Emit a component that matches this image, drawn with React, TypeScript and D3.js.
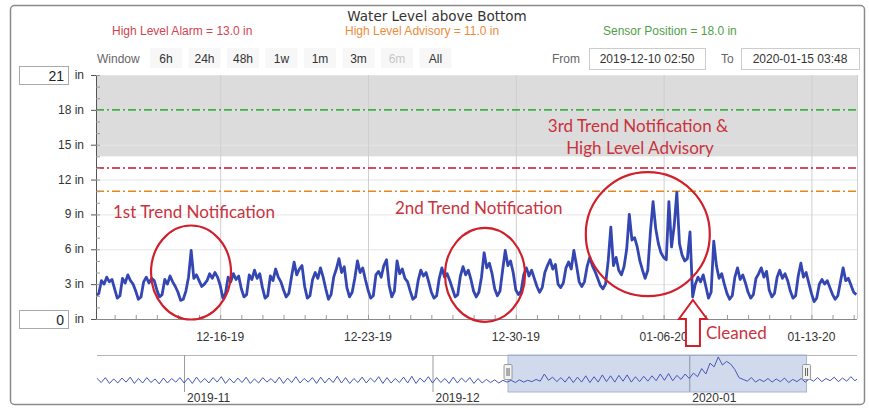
import React from "react";
import * as d3 from "d3";

const parse = d3.timeParse("%Y-%m-%d %H:%M");

// water level readings (in), one every 3 hours, first at 2019-12-10 03:00
const seriesStart = "2019-12-10 03:00";
const levelIn = [
  2.0, 2.2, 3.3, 3.0, 3.6, 3.2, 3.4, 2.6,
  1.8, 2.0, 3.5, 3.1, 3.8, 3.3, 3.0, 2.4,
  1.7, 1.9, 3.2, 3.6, 3.1, 3.5, 3.3, 2.5,
  1.9, 2.1, 3.4, 3.0, 3.7, 3.2, 2.8, 2.3,
  1.6, 1.7, 2.4, 3.6, 5.9, 3.5, 3.8, 3.3,
  2.8, 3.0, 3.3, 3.9, 3.5, 4.0, 3.6, 2.9,
  1.8, 2.2, 3.6, 3.2, 3.9, 3.4, 3.7, 2.6,
  1.9, 2.1, 3.8, 3.4, 4.2, 3.5, 3.9, 2.7,
  1.8, 2.0, 3.7, 3.3, 4.3, 3.6, 3.2, 2.5,
  1.9, 2.2, 3.6, 4.9, 3.8, 4.3, 4.6, 2.8,
  1.8, 2.0, 3.4, 4.0, 3.5, 4.4, 3.6, 2.6,
  1.7, 2.1, 3.6, 4.3, 5.2, 4.0, 4.5, 2.7,
  1.9, 2.3, 3.5, 5.0, 4.0, 4.4, 3.4, 2.5,
  1.8, 2.0, 3.8, 4.1, 3.6, 4.6, 5.1, 2.9,
  1.9, 2.4, 5.0, 3.9, 4.3, 3.5, 3.2, 2.4,
  1.7, 1.9, 3.3, 4.2, 3.7, 4.0, 3.2, 2.3,
  1.8, 2.0, 3.5, 4.4, 3.6, 3.9, 3.3, 2.6,
  1.9, 2.1, 3.7, 4.5, 3.8, 4.2, 3.4, 2.4,
  1.9, 2.3, 3.6, 5.7, 4.4, 4.8, 3.9, 2.6,
  2.0, 2.4, 4.2, 5.9, 4.6, 5.0, 4.0, 2.5,
  2.1, 2.4, 3.8, 4.4, 3.7, 4.2, 3.5, 2.8,
  2.3, 2.7, 4.0, 4.6, 5.1, 4.3, 4.7, 3.0,
  2.7, 3.1, 4.4, 4.9, 4.3, 5.9, 4.6, 3.2,
  2.8, 3.2, 4.5, 5.3, 4.6, 4.1, 3.5, 2.9,
  2.6, 3.0, 5.0, 7.9, 4.6, 5.3, 4.2, 3.8,
  4.5, 6.0, 9.0, 6.8, 7.0, 6.2, 5.0, 4.2,
  3.5, 4.2, 7.5, 10.1, 7.8, 6.5, 5.7, 5.3,
  5.1, 10.1, 6.2, 8.0, 10.9, 6.5, 5.5, 5.0,
  5.2, 7.5, 1.9, 3.0, 3.6, 3.2, 3.8, 2.8,
  1.8, 2.3, 6.7, 4.6, 3.5, 3.9, 3.0, 2.2,
  1.7, 2.0, 3.6, 4.4, 3.4, 3.8, 3.1, 2.3,
  1.8, 2.1, 3.5, 3.9, 4.4, 3.6, 4.1, 2.5,
  1.9, 2.2, 3.6, 4.2, 3.5, 3.9, 3.3, 2.4,
  1.8, 2.0, 3.7, 4.8, 3.6, 4.0, 3.1, 2.2,
  1.5, 1.8, 3.0, 3.4, 3.0, 3.3, 2.7, 2.1,
  1.7, 2.0, 3.2, 4.4, 3.3, 3.5, 2.9, 2.3,
  2.1,
];

// navigator overview, one value every 12 hours from 2019-10-21 00:00
const navStart = "2019-10-21 00:00";
const navLevel = [
  2.0, 3.0, 2.1, 3.2, 1.9, 2.9, 2.0, 3.1, 2.2, 3.3, 1.9, 3.0, 2.0, 3.2, 2.1, 2.9, 1.8, 3.1, 2.0, 3.0, 2.2, 3.2,
  2.0, 3.1, 1.9, 3.3, 2.1, 3.0, 2.0, 3.2, 2.2, 3.4, 1.9, 3.0, 2.0, 3.1, 2.1, 3.3, 1.9, 2.9, 2.0, 3.2,
  2.2, 3.0, 2.0, 3.3, 1.9, 3.1, 2.1, 3.4, 2.0, 3.0, 2.2, 3.2, 1.9, 3.3, 2.0, 3.1, 2.1, 3.5, 2.0, 3.2,
  1.9, 3.0, 2.1, 3.3, 2.0, 3.1, 2.2, 3.4, 1.9, 3.2, 2.0, 3.0, 2.1, 3.3, 2.0, 3.5, 1.9, 3.1, 2.2, 3.4,
  2.0, 3.2, 2.1, 3.0, 1.9, 3.3, 2.0, 3.1, 2.2, 3.2, 1.9, 3.0, 2.0, 2.8, 2.1, 2.7, 2.0, 2.6,
  2.2, 2.6, 2.1, 2.7, 2.2, 2.6, 2.3, 2.8, 2.4, 4.0,
  2.6, 3.3, 2.3, 3.2, 2.2, 3.4, 2.1, 3.3, 2.2, 3.6, 2.1, 3.4,
  2.2, 3.8, 2.3, 3.6, 2.2, 3.7, 2.4, 3.8, 2.2, 3.4, 2.3, 3.5, 2.4, 3.6, 2.5, 4.0, 2.6, 4.1, 2.5, 3.7, 2.8, 4.0,
  3.0, 4.2, 3.4, 5.2, 4.0, 6.4, 5.6, 7.8, 6.0, 6.8, 6.2, 5.0, 3.2, 2.8, 2.4, 3.2,
  2.2, 2.8, 2.3, 3.0, 2.2, 2.9, 2.3, 3.1, 2.1, 2.8, 2.3, 3.0, 2.2, 2.9, 2.4, 3.2, 2.3, 3.0, 2.5, 3.3,
  2.3, 3.1, 2.4, 3.4, 2.5, 3.2,
];

const viewFrom = "2019-12-10 02:50";
const viewTo = "2020-01-15 03:48";
const navFrom = "2019-10-21 11:45";
const navTo = "2020-01-21 06:00";

const yTicks = [0, 3, 6, 9, 12, 15, 18, 21];
const weekTicks = ["2019-12-16 00:00", "2019-12-23 00:00", "2019-12-30 00:00", "2020-01-06 00:00", "2020-01-13 00:00"];
const monthTicks = ["2019-11-01 00:00", "2019-12-01 00:00", "2020-01-01 00:00"];
const windowButtons = ["6h", "24h", "48h", "1w", "1m", "3m", "6m", "All"];
const thresholdNames = ["High Level Alarm", "High Level Advisory", "Sensor Position"];
const thresholdValues = [13, 11, 18];
const deadBand = [14, 21];

// circled events: centre time and level
const circleTimes = ["2019-12-14 14:50", "2019-12-28 13:00", "2020-01-05 06:00"];
const circleLevels = [4.0, 3.8, 7.3];
const cleanedTime = "2020-01-07 09:20";

const FONT = "'Liberation Sans', Arial, sans-serif";
const NOTE_FONT = "Lato, 'Open Sans', sans-serif";
const NOTE_RED = "#c9333d";

export default function App() {
  const W = 869;
  const H = 408;
  const m = { left: 96, right: 857, top: 75, bottom: 319 };

  const x = d3.scaleTime().domain([parse(viewFrom)!, parse(viewTo)!]).range([m.left, m.right]);
  const y = d3.scaleLinear().domain([0, 21]).range([m.bottom, m.top]);

  const t0 = parse(seriesStart)!;
  const pts: [Date, number][] = levelIn.map((v, i) => [d3.timeHour.offset(t0, i * 3), v]);
  const line = d3.line<[Date, number]>().x((d) => x(d[0])).y((d) => y(d[1]));

  const nav = { top: 355, bottom: 392 };
  const xn = d3.scaleTime().domain([parse(navFrom)!, parse(navTo)!]).range([97, 857]);
  const yn = d3.scaleLinear().domain([0, 8]).range([nav.bottom, nav.top + 1]);
  const n0 = parse(navStart)!;
  const navPts: [Date, number][] = navLevel.map((v, i) => [d3.timeHour.offset(n0, i * 12), v]);
  const navLine = d3.line<[Date, number]>().x((d) => xn(d[0])).y((d) => yn(d[1]));

  const dayTicks = d3.timeDay.range(x.domain()[0], x.domain()[1]);
  const minorY = d3.range(0, 21.01, 1);
  const fmt = d3.timeFormat("%m-%d-%y");
  const thrColors = ["#c2152b", "#df8a1c", "#3cb043"];
  const thrText = ["#d2434f", "#ec8b3c", "#4f9f48"];
  const selX0 = xn(parse(viewFrom)!);
  const selX1 = xn(parse(viewTo)!);
  const cx = x(parse(cleanedTime)!);

  return (
    <svg width={W} height={H} style={{ position: "absolute", left: 0, top: 0, background: "#fff" }}>
      <rect x={10.5} y={5.5} width={854} height={399} rx={4} fill="#fff" stroke="#8a8a8a" strokeWidth={1.5} />

      <text x={437} y={21} textAnchor="middle" fontFamily="'DejaVu Sans', sans-serif" fontSize={13.5} fill="#333">
        Water Level above Bottom
      </text>
      {thresholdNames.map((n, i) => (
        <text key={n} x={[112, 345, 603][i]} y={35} fontFamily={FONT} fontSize={12} fill={thrText[i]}>
          {`${n} = ${thresholdValues[i].toFixed(1)} in`}
        </text>
      ))}

      {/* range selector */}
      <text x={97} y={63} fontFamily={FONT} fontSize={12} fill="#666">Window</text>
      {windowButtons.map((b, i) => {
        const bx = 150 + i * 38.5;
        return (
          <g key={b}>
            <rect x={bx} y={48} width={32} height={20} fill="#f7f7f7" />
            <text x={bx + 16} y={63} textAnchor="middle" fontFamily={FONT} fontSize={12} fill={b === "6m" ? "#c8c8c8" : "#333"}>
              {b}
            </text>
          </g>
        );
      })}
      <text x={552} y={63} fontFamily={FONT} fontSize={12} fill="#666">From</text>
      <rect x={589.5} y={48.5} width={116} height={21} fill="#fff" stroke="#ccc" />
      <text x={647} y={63} textAnchor="middle" fontFamily={FONT} fontSize={12} fill="#333">2019-12-10 02:50</text>
      <text x={721} y={63} fontFamily={FONT} fontSize={12} fill="#666">To</text>
      <rect x={741.5} y={48.5} width={118} height={21} fill="#fff" stroke="#ccc" />
      <text x={800} y={63} textAnchor="middle" fontFamily={FONT} fontSize={12} fill="#333">2020-01-15 03:48</text>

      {/* y range inputs */}
      <rect x={19.5} y={66.5} width={49} height={18} fill="#fff" stroke="#aaa" />
      <text x={64} y={81} textAnchor="end" fontFamily={FONT} fontSize={14} fill="#222">21</text>
      <rect x={19.5} y={310.5} width={49} height={18} fill="#fff" stroke="#aaa" />
      <text x={64} y={325} textAnchor="end" fontFamily={FONT} fontSize={14} fill="#222">0</text>

      {/* plot background */}
      <rect x={m.left} y={y(deadBand[1])} width={m.right - m.left} height={y(deadBand[0]) - y(deadBand[1])} fill="#dcdcdc" />
      {yTicks.map((t) => (
        <line key={t} x1={m.left} x2={m.right} y1={y(t) + 0.5} y2={y(t) + 0.5} stroke="#e6e6e6" />
      ))}
      {weekTicks.map((w) => (
        <line key={w} x1={x(parse(w)!) + 0.5} x2={x(parse(w)!) + 0.5} y1={m.top} y2={m.bottom} stroke="#cfcfcf" />
      ))}
      <line x1={m.right + 0.5} x2={m.right + 0.5} y1={m.top} y2={m.bottom} stroke="#cfcfcf" />

      {thresholdValues.map((v, i) => (
        <line key={v} x1={m.left} x2={m.right} y1={y(v)} y2={y(v)} stroke={thrColors[i]} strokeWidth={1.6} strokeDasharray="8,3,2,3" />
      ))}

      <defs>
        <clipPath id="plotClip">
          <rect x={m.left} y={m.top} width={m.right - m.left} height={m.bottom - m.top} />
        </clipPath>
        <clipPath id="navClip">
          <rect x={97} y={nav.top} width={760} height={nav.bottom - nav.top} />
        </clipPath>
      </defs>
      <path d={line(pts)!} fill="none" stroke="#3446b2" strokeWidth={2.8} strokeLinejoin="round" clipPath="url(#plotClip)" />

      {/* axes */}
      <line x1={m.left + 0.5} x2={m.left + 0.5} y1={m.top} y2={m.bottom} stroke="#555" />
      {minorY.map((t) => (
        <line key={t} x1={m.left} x2={m.left + 4} y1={y(t) + 0.5} y2={y(t) + 0.5} stroke="#999" />
      ))}
      {yTicks.map((t) => (
        <g key={t}>
          <line x1={m.left - 5} x2={m.left} y1={y(t) + 0.5} y2={y(t) + 0.5} stroke="#555" />
          <text x={84} y={y(t) + 4} textAnchor="end" fontFamily={FONT} fontSize={12} fill="#333">
            {t === 21 || t === 0 ? "in" : `${t} in`}
          </text>
        </g>
      ))}
      <line x1={m.left} x2={m.right} y1={m.bottom + 0.5} y2={m.bottom + 0.5} stroke="#888" />
      {dayTicks.map((d) => (
        <line key={+d} x1={x(d) + 0.5} x2={x(d) + 0.5} y1={m.bottom - 4} y2={m.bottom} stroke="#999" />
      ))}
      {weekTicks.map((w) => (
        <text key={w} x={x(parse(w)!)} y={341} textAnchor="middle" fontFamily={FONT} fontSize={12} fill="#333">
          {fmt(parse(w)!)}
        </text>
      ))}

      {/* navigator */}
      <line x1={97} x2={857} y1={nav.top + 0.5} y2={nav.top + 0.5} stroke="#b5b5b5" />
      {monthTicks.map((mt) => (
        <g key={mt}>
          <line x1={xn(parse(mt)!) + 0.5} x2={xn(parse(mt)!) + 0.5} y1={nav.top} y2={nav.bottom} stroke="#9a9a9a" />
          <text x={xn(parse(mt)!) + 3} y={402} fontFamily={FONT} fontSize={12} fill="#333">
            {d3.timeFormat("%Y-%m")(parse(mt)!)}
          </text>
        </g>
      ))}
      <rect x={selX0} y={nav.top} width={selX1 - selX0} height={nav.bottom - nav.top} fill="rgba(102,133,194,0.3)" stroke="#a7b3d3" />
      <path d={navLine(navPts)!} fill="none" stroke="#4656b8" strokeWidth={1} clipPath="url(#navClip)" />
      {[selX0, selX1].map((hx, i) => (
        <g key={i}>
          <rect x={hx - 4} y={364.5} width={8} height={15} rx={1} fill="#f2f2f2" stroke="#999" />
          <line x1={hx - 1} x2={hx - 1} y1={368} y2={376} stroke="#666" />
          <line x1={hx + 1} x2={hx + 1} y1={368} y2={376} stroke="#666" />
        </g>
      ))}

      {/* annotations */}
      {circleTimes.map((c, i) => (
        <ellipse
          key={c}
          cx={x(parse(c)!)}
          cy={y(circleLevels[i])}
          rx={[40, 40, 62][i]}
          ry={[47, 47, 62][i]}
          fill="none"
          stroke="#d0202c"
          strokeWidth={2.2}
        />
      ))}
      <text x={113} y={218} fontFamily={NOTE_FONT} fontSize={17} fill={NOTE_RED}>1st Trend Notification</text>
      <text x={395} y={214} fontFamily={NOTE_FONT} fontSize={17} fill={NOTE_RED}>2nd Trend Notification</text>
      <text x={638} y={132} textAnchor="middle" fontFamily={NOTE_FONT} fontSize={17} fill={NOTE_RED}>3rd Trend Notification &amp;</text>
      <text x={640} y={154} textAnchor="middle" fontFamily={NOTE_FONT} fontSize={17} fill={NOTE_RED}>High Level Advisory</text>
      <path
        d={`M${cx},300 L${cx + 14},319 L${cx + 7},319 L${cx + 7},346 L${cx - 7},346 L${cx - 7},319 L${cx - 14},319 Z`}
        fill="#fff"
        stroke="#d0202c"
        strokeWidth={2}
      />
      <text x={706} y={339} fontFamily={NOTE_FONT} fontSize={17} fill={NOTE_RED}>Cleaned</text>
    </svg>
  );
}
